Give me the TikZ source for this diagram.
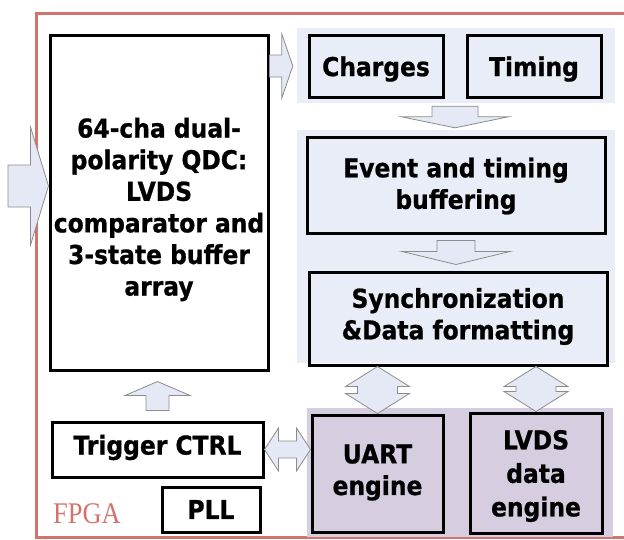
\documentclass[tikz,border=0pt]{standalone}
\usepackage{fontspec}
\usetikzlibrary{calc}
\newfontfamily\labfont{DejaVu Sans}[FakeStretch=0.9, BoldFeatures={FakeBold=0.8}]
\newfontfamily\tagfont{Liberation Serif}[FakeStretch=0.88]

\definecolor{framered}{HTML}{D2746C}
\definecolor{panelblue}{HTML}{E9EDF7}
\definecolor{panelpurple}{HTML}{D6CDE1}
\definecolor{arrowfill}{HTML}{E4E9F5}
\definecolor{arrowline}{HTML}{8C8C8C}

\tikzset{
  box/.style={draw=black, line width=3pt, rectangle, inner sep=0pt},
  txt/.style={inner sep=0pt, align=center,
    font=\labfont\bfseries\fontsize{26}{31.6}\selectfont},
  panel/.style={rectangle, draw=none, inner sep=0pt},
  blockarrow/.style={fill=arrowfill, draw=arrowline, line width=0.8pt, line join=miter},
}

% block arrow from #1 to #2: half shaft width #3, half head width #4, head length #5
\newcommand\blocksingle[5]{%
  \coordinate (hb) at ($(#2)!#5!(#1)$);
  \draw[blockarrow] ($(#1)!#3!90:(#2)$) -- ($(hb)!#3!90:(#2)$) -- ($(hb)!#4!90:(#2)$)
    -- (#2) -- ($(hb)!#4!-90:(#2)$) -- ($(hb)!#3!-90:(#2)$) -- ($(#1)!#3!-90:(#2)$) -- cycle;
}
% two-headed block arrow between #1 and #2
\newcommand\blockdouble[5]{%
  \coordinate (hba) at ($(#1)!#5!(#2)$);
  \coordinate (hbb) at ($(#2)!#5!(#1)$);
  \draw[blockarrow] (#1) -- ($(hba)!#4!90:(#2)$) -- ($(hba)!#3!90:(#2)$)
    -- ($(hbb)!#3!90:(#2)$) -- ($(hbb)!#4!90:(#2)$) -- (#2)
    -- ($(hbb)!#4!-90:(#2)$) -- ($(hbb)!#3!-90:(#2)$)
    -- ($(hba)!#3!-90:(#2)$) -- ($(hba)!#4!-90:(#2)$) -- cycle;
}

\begin{document}
\begin{tikzpicture}[x=1pt, y=-1pt]
  \useasboundingbox (0,0) rectangle (624,539);
  \clip (0,0) rectangle (624,539);
  \fill[white] (0,0) rectangle (624,539);

  % FPGA outline
  \draw[framered, line width=3pt] (36,13) rectangle (660,537);

  % background panels
  \node[panel, fill=panelblue, minimum width=318, minimum height=75] (panelA) at (456,65.5) {};
  \node[panel, fill=panelblue, minimum width=318, minimum height=233] (panelB) at (456,246.5) {};
  \node[panel, fill=panelpurple, minimum width=306, minimum height=129] (panelC) at (460,472.5) {};

  % functional blocks
  \node[box, fill=white, minimum width=218, minimum height=335] (qdc) at (159,202.5) {};
  \node[box, minimum width=134, minimum height=62] (charges) at (376,66) {};
  \node[box, minimum width=134, minimum height=62] (timing) at (534,66) {};
  \node[box, minimum width=298, minimum height=96] (event) at (456,185) {};
  \node[box, minimum width=298, minimum height=93] (sync) at (458,318.5) {};
  \node[box, minimum width=131, minimum height=117] (uart) at (377.5,473.5) {};
  \node[box, minimum width=132, minimum height=120] (lvds) at (536,473) {};
  \node[box, minimum width=211, minimum height=55] (trig) at (157.5,449.5) {};
  \node[box, minimum width=98, minimum height=45] (pll) at (211,509.5) {};

  % block captions
  \node[txt] (qdc-t) at ($(qdc.center)+(0,7)$)
    {64-cha dual-\\polarity QDC:\\LVDS\\comparator and\\3-state buffer\\array};
  \node[txt] (charges-t) at ($(charges.center)+(0,3)$) {Charges};
  \node[txt] (timing-t) at ($(timing.center)+(0,3)$) {Timing};
  \node[txt] (event-t) at ($(event.center)+(0,1)$) {Event and timing\\buffering};
  \node[txt] (sync-t) at ($(sync.center)+(0,-2)$) {Synchronization\\\&Data formatting};
  \node[txt] (uart-t) at ($(uart.center)+(0,-1)$) {UART\\engine};
  \node[txt, font=\labfont\bfseries\fontsize{26}{33.5}\selectfont] (lvds-t)
    at ($(lvds.center)+(0,3)$) {LVDS\\data\\engine};
  \node[txt] (trig-t) at ($(trig.center)+(0,-2)$) {Trigger CTRL};
  \node[txt] (pll-t) at (pll.center) {PLL};

  \node[anchor=base west, inner sep=0pt, text=framered,
        font=\tagfont\fontsize{30}{30}\selectfont] (fpga) at (53,523) {FPGA};

  % arrow end points
  \coordinate (inL) at (8,186);
  \coordinate (inR) at (qdc.west |- inL);
  \coordinate (outL) at (qdc.east |- charges.center);
  \coordinate (outR) at ($(panelA.west |- charges.center)+(-4,0)$);
  \coordinate (d1a) at ($(panelA.south)+(-1,3)$);
  \coordinate (d1b) at ($(panelB.north)+(-1,-2)$);
  \coordinate (d2a) at ($(event.south)+(0,6)$);
  \coordinate (d2b) at ($(event.south |- sync.north)+(0,-6)$);
  \coordinate (uL1) at (uart.north |- sync.south);
  \coordinate (uL2) at (uart.north);
  \coordinate (uR1) at (lvds.north |- sync.south);
  \coordinate (uR2) at (lvds.north);
  \coordinate (tA) at ($(trig.north)+(0,-10)$);
  \coordinate (tB) at ($(trig.north |- qdc.south)+(0,10)$);
  \coordinate (hA) at (trig.east);
  \coordinate (hB) at (uart.west |- trig.east);

  % data flow arrows
  \blocksingle{inL}{inR}{21pt}{59pt}{18pt}
  \blocksingle{outL}{outR}{11pt}{32pt}{11pt}
  \blocksingle{d1a}{d1b}{23pt}{53.5pt}{11pt}
  \blocksingle{d2a}{d2b}{19pt}{54pt}{13pt}
  \blockdouble{uL1}{uL2}{20pt}{32pt}{20pt}
  \blockdouble{uR1}{uR2}{20pt}{32pt}{20pt}
  \blocksingle{tA}{tB}{11.5pt}{32.5pt}{14pt}
  \blockdouble{hA}{hB}{8.5pt}{21.5pt}{14pt}
\end{tikzpicture}
\end{document}
